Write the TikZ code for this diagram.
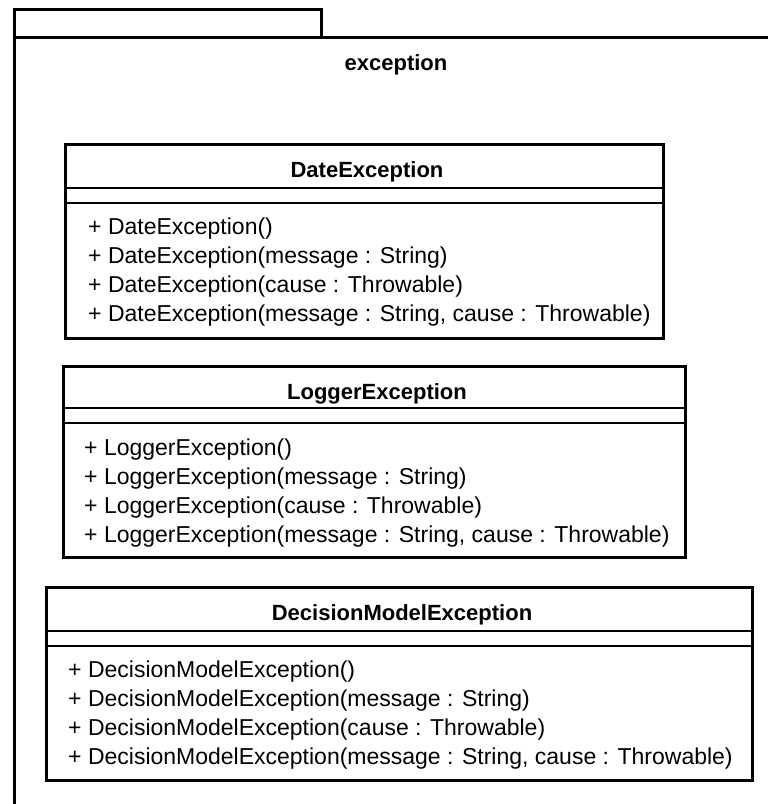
\documentclass[tikz,border=0pt]{standalone}
\usepackage{fontspec}
\setmainfont{Liberation Sans}
\usetikzlibrary{positioning}
\tikzset{
	pkgframe/.style = {draw=black, line width=3pt},
	classbox/.style = {draw=black, line width=3pt},% outer border
	classsep/.style = {draw=black, line width=1.5pt},% compartment lines
	classname/.style = {anchor=base, inner sep=0pt,
		font=\fontsize{22}{22}\selectfont\bfseries},
	member/.style = {anchor=base west, inner sep=0pt,
		font=\fontsize{23}{23}\selectfont}
}

\begin{document}
\begin{tikzpicture}[x=1pt, y=-1pt]
	\useasboundingbox (0,0) rectangle (768,804);
	% package
	\draw[pkgframe] (14,37) -- (14,9) -- (321,9) -- (321,37);
	\draw[pkgframe] (14,810) -- (14,37) -- (775,37);
	\node[classname] (pkg) at (396,70) {exception};
	% DateException
	\draw[classbox] (65,144) rectangle (663,338);
	\draw[classsep] (65,188) -- (663,188) (65,203) -- (663,203);
	\node[classname] (date) at (367,177) {DateException};
	\node[member] (date1) at (88,234) {+ DateException()};
	\node[member] (date2) at (88,263) {+ DateException(message : String)};
	\node[member] (date3) at (88,292) {+ DateException(cause : Throwable)};
	\node[member] (date4) at (88,321) {+ DateException(message : String, cause : Throwable)};
	% LoggerException
	\draw[classbox] (63,366) rectangle (685,557);
	\draw[classsep] (63,408) -- (685,408) (63,423) -- (685,423);
	\node[classname] (logger) at (377,399) {LoggerException};
	\node[member] (logger1) at (84,455) {+ LoggerException()};
	\node[member] (logger2) at (84,484) {+ LoggerException(message : String)};
	\node[member] (logger3) at (84,513) {+ LoggerException(cause : Throwable)};
	\node[member] (logger4) at (84,542) {+ LoggerException(message : String, cause : Throwable)};
	% DecisionModelException
	\draw[classbox] (46,587) rectangle (752,780);
	\draw[classsep] (46,631) -- (752,631) (46,646) -- (752,646);
	\node[classname] (model) at (402,620) {DecisionModelException};
	\node[member] (model1) at (68,677) {+ DecisionModelException()};
	\node[member] (model2) at (68,706) {+ DecisionModelException(message : String)};
	\node[member] (model3) at (68,735) {+ DecisionModelException(cause : Throwable)};
	\node[member] (model4) at (68,764) {+ DecisionModelException(message : String, cause : Throwable)};
\end{tikzpicture}
\end{document}
